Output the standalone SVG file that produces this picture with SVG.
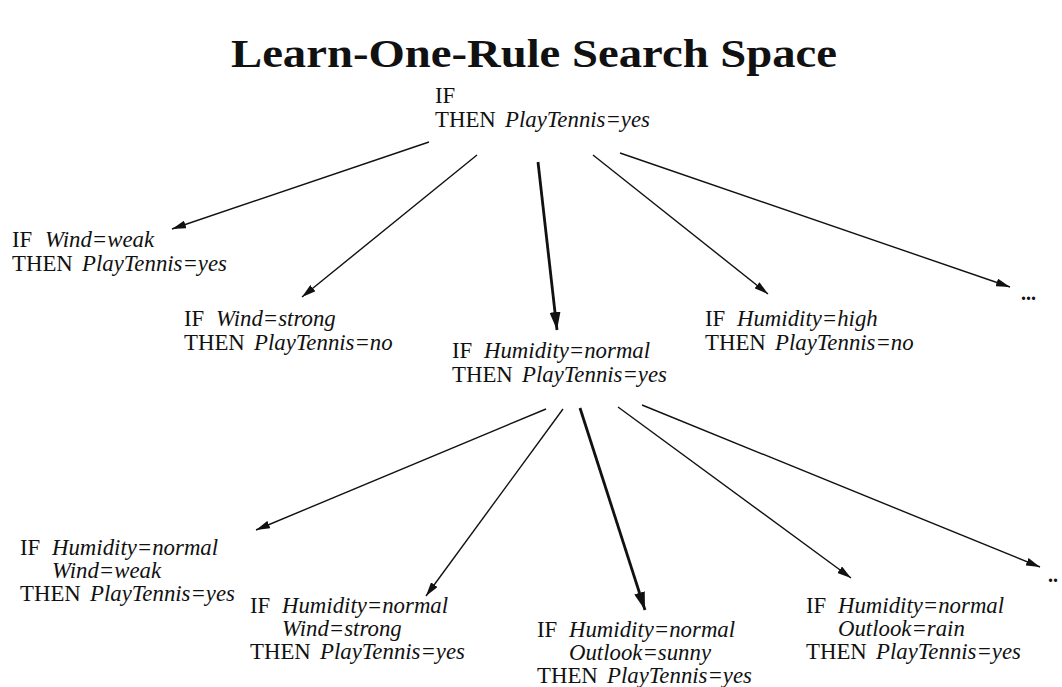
<svg xmlns="http://www.w3.org/2000/svg" width="1062" height="687" viewBox="0 0 1062 687">
  <style>
    .t { font-family: "Liberation Serif", "Times New Roman", serif; font-size: 22.8px; fill: #111; }
    .v { font-style: italic; }
    .title { font-family: "Liberation Serif", "Times New Roman", serif; font-weight: bold; font-size: 39px; fill: #111; }
    .dots { font-family: "Liberation Serif", serif; font-weight: bold; font-size: 20px; fill: #111; }
    .e { stroke: #111; stroke-width: 1.4; fill: none; marker-end: url(#ah); }
    .eb { stroke: #111; stroke-width: 2.8; fill: none; marker-end: url(#ahb); }
  </style>
  <defs>
    <marker id="ah" viewBox="0 0 14 8" refX="14" refY="4" markerWidth="14" markerHeight="8" markerUnits="userSpaceOnUse" orient="auto">
      <path d="M0,0 L14,4 L0,8 Z" fill="#111"/>
    </marker>
    <marker id="ahb" viewBox="0 0 18 11" refX="18" refY="5.5" markerWidth="18" markerHeight="11" markerUnits="userSpaceOnUse" orient="auto">
      <path d="M0,0 L18,5.5 L0,11 Z" fill="#111"/>
    </marker>
  </defs>
  <rect width="1062" height="687" fill="#fff"/>

  <g id="title">
    <text class="title" x="231" y="67" textLength="606" lengthAdjust="spacingAndGlyphs">Learn-One-Rule Search Space</text>
  </g>

  <g id="connectors">
    <!-- from the root rule -->
    <line class="e" x1="429" y1="142" x2="172" y2="229"/>
    <line class="e" x1="477" y1="155" x2="302" y2="297"/>
    <line class="eb" x1="538" y1="162" x2="557" y2="330"/>
    <line class="e" x1="593" y1="155" x2="768" y2="294"/>
    <line class="e" x1="620" y1="153" x2="1010" y2="287"/>
    <!-- from IF Humidity=normal -->
    <line class="e" x1="546" y1="409" x2="256" y2="530"/>
    <line class="e" x1="563" y1="409" x2="426" y2="596"/>
    <line class="eb" x1="580" y1="408" x2="645" y2="610"/>
    <line class="e" x1="618" y1="407" x2="851" y2="578"/>
    <line class="e" x1="642" y1="405" x2="1040" y2="567"/>
  </g>

  <g id="n-root">
    <text class="t" x="435" y="103">IF</text>
    <text class="t" x="435" y="127">THEN<tspan class="v" x="505">PlayTennis=yes</tspan></text>
  </g>

  <g id="n-wind-weak">
    <text class="t" x="12" y="247">IF<tspan class="v" x="45">Wind=weak</tspan></text>
    <text class="t" x="12" y="271">THEN<tspan class="v" x="82">PlayTennis=yes</tspan></text>
  </g>

  <g id="n-wind-strong">
    <text class="t" x="184" y="326">IF<tspan class="v" x="216">Wind=strong</tspan></text>
    <text class="t" x="184" y="350">THEN<tspan class="v" x="254">PlayTennis=no</tspan></text>
  </g>

  <g id="n-humidity-normal">
    <text class="t" x="452" y="358">IF<tspan class="v" x="484">Humidity=normal</tspan></text>
    <text class="t" x="452" y="382">THEN<tspan class="v" x="522">PlayTennis=yes</tspan></text>
  </g>

  <g id="n-humidity-high">
    <text class="t" x="705" y="326">IF<tspan class="v" x="737">Humidity=high</tspan></text>
    <text class="t" x="705" y="350">THEN<tspan class="v" x="775">PlayTennis=no</tspan></text>
  </g>

  <g id="n-more-1">
    <text class="dots" x="1021" y="300">...</text>
  </g>

  <g id="n-hn-wind-weak">
    <text class="t" x="20" y="555">IF<tspan class="v" x="52">Humidity=normal</tspan></text>
    <text class="t v" x="52" y="578">Wind=weak</text>
    <text class="t" x="20" y="601">THEN<tspan class="v" x="90">PlayTennis=yes</tspan></text>
  </g>

  <g id="n-hn-wind-strong">
    <text class="t" x="250" y="613">IF<tspan class="v" x="282">Humidity=normal</tspan></text>
    <text class="t v" x="282" y="636">Wind=strong</text>
    <text class="t" x="250" y="659">THEN<tspan class="v" x="320">PlayTennis=yes</tspan></text>
  </g>

  <g id="n-hn-outlook-sunny">
    <text class="t" x="537" y="637">IF<tspan class="v" x="569">Humidity=normal</tspan></text>
    <text class="t v" x="569" y="660">Outlook=sunny</text>
    <text class="t" x="537" y="683">THEN<tspan class="v" x="607">PlayTennis=yes</tspan></text>
  </g>

  <g id="n-hn-outlook-rain">
    <text class="t" x="806" y="613">IF<tspan class="v" x="838">Humidity=normal</tspan></text>
    <text class="t v" x="838" y="636">Outlook=rain</text>
    <text class="t" x="806" y="659">THEN<tspan class="v" x="876">PlayTennis=yes</tspan></text>
  </g>

  <g id="n-more-2">
    <text class="dots" x="1048" y="582">..</text>
  </g>
</svg>
